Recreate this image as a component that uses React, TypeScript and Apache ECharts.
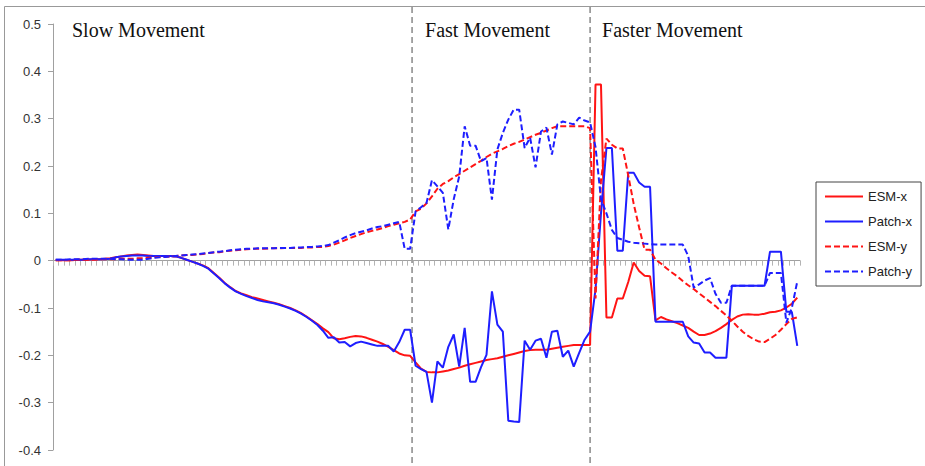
import React, { useEffect, useRef } from 'react';
import * as echarts from 'echarts';

const SERIES_NAMES = ['ESM-x', 'Patch-x', 'ESM-y', 'Patch-y'];

const ESM_X = [
  0.001, 0.001, 0.001, 0.001, 0.002, 0.002, 0.002, 0.003, 0.003, 0.004,
  0.005, 0.007, 0.009, 0.011, 0.012, 0.013, 0.012, 0.011, 0.010, 0.010,
  0.010, 0.010, 0.009, 0.006, 0.002, -0.002, -0.006, -0.010, -0.016, -0.026,
  -0.036, -0.047, -0.056, -0.064, -0.069, -0.073, -0.077, -0.080, -0.083, -0.086,
  -0.089, -0.092, -0.096, -0.100, -0.105, -0.111, -0.118, -0.126, -0.134, -0.143,
  -0.151, -0.164, -0.166, -0.164, -0.161, -0.159, -0.160, -0.163, -0.167, -0.171,
  -0.176, -0.182, -0.189, -0.196, -0.200, -0.201, -0.215, -0.228, -0.235, -0.236,
  -0.236, -0.234, -0.232, -0.229, -0.226, -0.222, -0.219, -0.216, -0.213, -0.210,
  -0.208, -0.206, -0.203, -0.200, -0.197, -0.194, -0.191, -0.189, -0.188, -0.188,
  -0.188, -0.186, -0.184, -0.182, -0.180, -0.178, -0.178, -0.178, -0.178, 0.372,
  0.372, -0.120, -0.120, -0.080, -0.080, -0.045, -0.004, -0.022, -0.032, -0.033,
  -0.126, -0.119, -0.124, -0.128, -0.132, -0.137, -0.142, -0.150, -0.157, -0.157,
  -0.154, -0.149, -0.142, -0.134, -0.125, -0.118, -0.114, -0.113, -0.114, -0.114,
  -0.112, -0.109, -0.108, -0.105, -0.099, -0.091, -0.078,
];

const PATCH_X = [
  0.002, 0.002, 0.002, 0.002, 0.002, 0.002, 0.003, 0.003, 0.003, 0.003,
  0.004, 0.007, 0.009, 0.010, 0.011, 0.011, 0.011, 0.010, 0.010, 0.010,
  0.010, 0.010, 0.009, 0.006, 0.002, -0.002, -0.006, -0.011, -0.017, -0.027,
  -0.037, -0.048, -0.057, -0.065, -0.070, -0.075, -0.079, -0.083, -0.086, -0.088,
  -0.090, -0.093, -0.097, -0.101, -0.106, -0.112, -0.119, -0.127, -0.136, -0.148,
  -0.163, -0.162, -0.173, -0.172, -0.181, -0.174, -0.171, -0.174, -0.177, -0.180,
  -0.180, -0.180, -0.192, -0.172, -0.146, -0.146, -0.222, -0.229, -0.235, -0.300,
  -0.213, -0.226, -0.182, -0.156, -0.224, -0.142, -0.256, -0.256, -0.225, -0.199,
  -0.065, -0.135, -0.150, -0.338, -0.340, -0.341, -0.169, -0.188, -0.169, -0.165,
  -0.205, -0.150, -0.148, -0.203, -0.190, -0.224, -0.195, -0.167, -0.150, -0.060,
  0.100, 0.238, 0.238, 0.021, 0.021, 0.186, 0.186, 0.165, 0.156, 0.156,
  -0.129, -0.129, -0.129, -0.129, -0.129, -0.129, -0.160, -0.173, -0.175, -0.194,
  -0.194, -0.205, -0.205, -0.205, -0.053, -0.053, -0.053, -0.053, -0.053, -0.053,
  -0.053, 0.019, 0.019, 0.019, -0.108, -0.108, -0.180,
];

const ESM_Y = [
  0.001, 0.001, 0.001, 0.001, 0.002, 0.002, 0.002, 0.002, 0.003, 0.003,
  0.003, 0.003, 0.004, 0.004, 0.004, 0.005, 0.005, 0.006, 0.007, 0.008,
  0.008, 0.009, 0.010, 0.011, 0.012, 0.012, 0.013, 0.014, 0.016, 0.017,
  0.018, 0.020, 0.021, 0.022, 0.023, 0.024, 0.025, 0.025, 0.025, 0.026,
  0.026, 0.026, 0.027, 0.027, 0.027, 0.027, 0.028, 0.028, 0.029, 0.029,
  0.031, 0.034, 0.038, 0.043, 0.048, 0.052, 0.056, 0.060, 0.063, 0.066,
  0.069, 0.073, 0.076, 0.079, 0.082, 0.087, 0.104, 0.110, 0.121, 0.136,
  0.152, 0.162, 0.168, 0.176, 0.183, 0.190, 0.197, 0.204, 0.211, 0.219,
  0.226, 0.231, 0.236, 0.242, 0.247, 0.251, 0.256, 0.261, 0.266, 0.270,
  0.275, 0.280, 0.284, 0.284, 0.284, 0.284, 0.284, 0.284, 0.280, -0.080,
  0.170, 0.258, 0.245, 0.237, 0.237, 0.180, 0.120, 0.070, 0.023, 0.023,
  0.002, -0.006, -0.016, -0.025, -0.033, -0.043, -0.052, -0.060, -0.069, -0.078,
  -0.087, -0.096, -0.106, -0.116, -0.127, -0.139, -0.150, -0.159, -0.166, -0.171,
  -0.172, -0.165, -0.157, -0.146, -0.134, -0.123, -0.120,
];

const PATCH_Y = [
  0.002, 0.002, 0.002, 0.003, 0.003, 0.003, 0.004, 0.004, 0.004, 0.004,
  0.004, 0.003, 0.003, 0.002, 0.002, 0.002, 0.002, 0.004, 0.006, 0.007,
  0.008, 0.009, 0.010, 0.011, 0.012, 0.013, 0.014, 0.015, 0.016, 0.018,
  0.019, 0.020, 0.022, 0.023, 0.024, 0.025, 0.025, 0.026, 0.026, 0.026,
  0.026, 0.027, 0.027, 0.027, 0.028, 0.028, 0.029, 0.029, 0.030, 0.031,
  0.033, 0.038, 0.043, 0.049, 0.054, 0.058, 0.061, 0.064, 0.068, 0.071,
  0.073, 0.076, 0.079, 0.082, 0.025, 0.025, 0.104, 0.113, 0.122, 0.170,
  0.157, 0.143, 0.066, 0.130, 0.178, 0.284, 0.243, 0.243, 0.210, 0.217,
  0.129, 0.235, 0.270, 0.298, 0.319, 0.319, 0.238, 0.260, 0.197, 0.273,
  0.281, 0.224, 0.288, 0.294, 0.291, 0.288, 0.302, 0.296, 0.292, 0.240,
  0.130, 0.100, 0.065, 0.048, 0.044, 0.040, 0.038, 0.037, 0.036, 0.035,
  0.034, 0.034, 0.034, 0.034, 0.034, 0.034, 0.010, -0.057, -0.050, -0.042,
  -0.037, -0.070, -0.089, -0.089, -0.053, -0.053, -0.053, -0.053, -0.053, -0.053,
  -0.053, -0.026, -0.026, -0.026, -0.131, -0.100, -0.044,
];

const Y_MIN = -0.4;
const Y_MAX = 0.5;
const Y_STEP = 0.1;

const PHASE_LABELS = ['Slow Movement', 'Fast Movement', 'Faster Movement'];
const PHASE_BOUNDS = [65.85, 98.5];

const RED = '#ff1414';
const BLUE = '#1e1eff';

export default function App() {
  const ref = useRef<HTMLDivElement>(null);

  useEffect(() => {
    if (!ref.current) return;
    const chart = echarts.init(ref.current, null, { renderer: 'svg' });
    const n = ESM_X.length;
    const toPairs = (arr: number[]) => arr.map((v, i) => [i + 0.5, v]);
    const mk = (name: string, data: number[], color: string, dashed: boolean) => ({
      name,
      type: 'line',
      data: toPairs(data),
      symbol: 'none',
      showSymbol: false,
      silent: true,
      lineStyle: { color, width: 2, type: dashed ? [6, 3] : 'solid' },
      itemStyle: { color },
      emphasis: { disabled: true },
    });

    chart.setOption({
      animation: false,
      backgroundColor: '#fff',
      grid: { left: 53, right: 925 - 800, top: 24, bottom: 16, containLabel: false },
      xAxis: {
        type: 'value',
        min: 0,
        max: n,
        interval: 1,
        axisLine: { onZero: true, lineStyle: { color: '#a0a0a0', width: 1 } },
        axisTick: { show: true, length: 5, lineStyle: { color: '#b4b4b4', width: 1 } },
        axisLabel: { show: false },
        splitLine: { show: false },
      },
      yAxis: {
        type: 'value',
        min: Y_MIN,
        max: Y_MAX,
        interval: Y_STEP,
        axisLine: { show: true, lineStyle: { color: '#a0a0a0', width: 1 } },
        axisTick: { show: true, length: 5, lineStyle: { color: '#a0a0a0' } },
        axisLabel: {
          margin: 12,
          color: '#333',
          fontSize: 13,
          fontFamily: 'Liberation Sans',
          formatter: (v: number) => (Math.abs(v) < 1e-9 ? '0' : v.toFixed(1)),
        },
        splitLine: { show: false },
      },
      legend: {
        orient: 'vertical',
        left: 816,
        top: 182,
        padding: [8, 9, 8, 8],
        itemWidth: 38,
        itemHeight: 14,
        itemGap: 12,
        borderColor: '#444',
        borderWidth: 1,
        selectedMode: false,
        data: SERIES_NAMES,
        itemStyle: { opacity: 0 },
        lineStyle: { width: 2 },
        textStyle: { fontSize: 13, fontFamily: 'Liberation Sans', color: '#222' },
      },
      series: [
        mk(SERIES_NAMES[0], ESM_X, RED, false),
        mk(SERIES_NAMES[1], PATCH_X, BLUE, false),
        mk(SERIES_NAMES[2], ESM_Y, RED, true),
        mk(SERIES_NAMES[3], PATCH_Y, BLUE, true),
      ],
    });

    const bx = PHASE_BOUNDS.map((b) => chart.convertToPixel({ xAxisIndex: 0 }, b) as number);
    const gridLeft = chart.convertToPixel({ xAxisIndex: 0 }, 0) as number;
    const labelX = [gridLeft + 19, bx[0] + 13, bx[1] + 12];

    chart.setOption({
      graphic: [
        {
          type: 'rect',
          silent: true,
          shape: { x: 4.5, y: 6.5, width: 1000, height: 1000 },
          style: { fill: 'none', stroke: '#999', lineWidth: 1 },
        },
        ...bx.map((x) => ({
          type: 'line',
          silent: true,
          shape: { x1: x, y1: 7, x2: x, y2: 470 },
          style: { stroke: '#777', lineWidth: 1.3, lineDash: [6, 4] },
        })),
        ...PHASE_LABELS.map((t, k) => ({
          type: 'text',
          silent: true,
          x: labelX[k],
          y: 29.5,
          style: {
            text: t,
            fill: '#111',
            font: '20px "Liberation Serif"',
            verticalAlign: 'middle',
            align: 'left',
          },
        })),
      ],
    });

    return () => chart.dispose();
  }, []);

  return (
    <div
      ref={ref}
      style={{ position: 'absolute', left: 0, top: 0, width: 925, height: 466, background: '#fff' }}
    />
  );
}
